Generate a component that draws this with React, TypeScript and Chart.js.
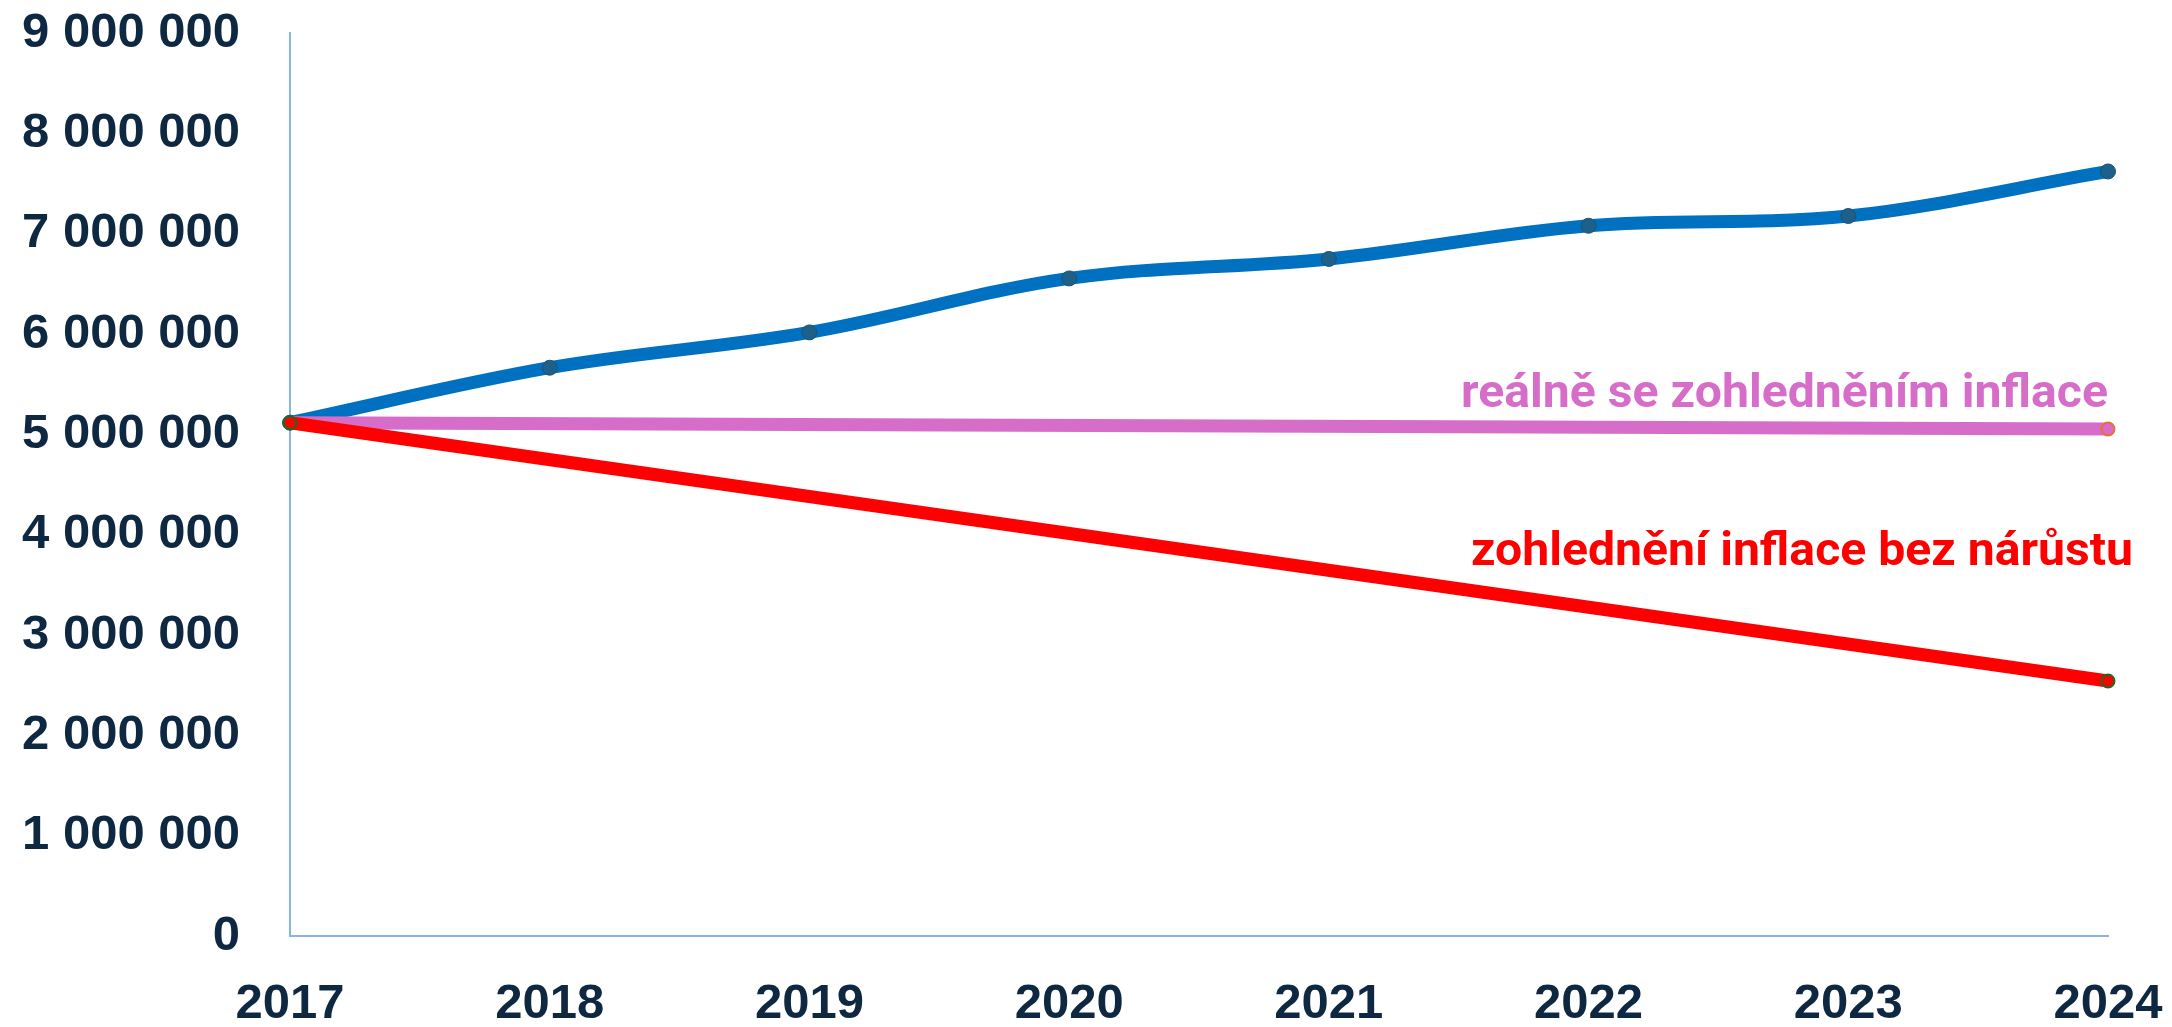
import React, { useEffect, useRef } from "react";
import { Chart, registerables } from "chart.js";

Chart.register(...registerables);

const years = ["2017", "2018", "2019", "2020", "2021", "2022", "2023", "2024"];
const nominalValues = [5116000, 5664000, 6016000, 6554000, 6748000, 7079000, 7176000, 7620000];
const realValues = [5116000, null, null, null, null, null, null, 5053000];
const noGrowthValues = [5116000, null, null, null, null, null, null, 2542000];
const realLabel = "reálně se zohledněním inflace";
const noGrowthLabel = "zohlednění inflace bez nárůstu";

const TEXT = "#0e2841";
const AXIS = "#8ab4e6";

const fmt = (v: number) => String(v).replace(/\B(?=(\d{3})+(?!\d))/g, " ");

const labelPlugin = {
  id: "lineLabels",
  afterDatasetsDraw(chart: any) {
    const { ctx, scales } = chart;
    const xs = scales.x;
    const ys = scales.y;
    const drawFit = (text: string, color: string, xRight: number, yCenter: number, width: number) => {
      ctx.save();
      ctx.font = "bold 47px Roboto, 'Liberation Sans', sans-serif";
      ctx.fillStyle = color;
      ctx.textBaseline = "middle";
      ctx.textAlign = "right";
      const w = ctx.measureText(text).width;
      const sx = width / w;
      ctx.translate(xRight, yCenter);
      ctx.scale(sx, 1);
      ctx.fillText(text, 0, 0);
      ctx.restore();
    };
    const xEnd = xs.getPixelForValue(7);
    drawFit(realLabel, "#d66dc9", xEnd, ys.getPixelForValue(5390000), 647);
    drawFit(noGrowthLabel, "#ff0000", xEnd + 25, ys.getPixelForValue(3815000), 662);
  },
};

export default function App() {
  const ref = useRef<HTMLCanvasElement>(null);
  useEffect(() => {
    if (!ref.current) return;
    const chart = new Chart(ref.current, {
      type: "line",
      data: {
        labels: years,
        datasets: [
          {
            label: noGrowthLabel,
            data: noGrowthValues,
            borderColor: "#ff0000",
            backgroundColor: "#ff0000",
            borderWidth: 13,
            pointRadius: 6.5,
            pointBorderWidth: 2,
            pointBorderColor: "#196b24",
            pointBackgroundColor: "#ff0000",
            spanGaps: true,
            tension: 0,
          },
          {
            label: realLabel,
            data: realValues,
            borderColor: "#d66dc9",
            backgroundColor: "#d66dc9",
            borderWidth: 13,
            pointRadius: [0, 0, 0, 0, 0, 0, 0, 6.5],
            pointBorderWidth: 2,
            pointBorderColor: "#e97132",
            pointBackgroundColor: "#d66dc9",
            spanGaps: true,
            tension: 0,
          },
          {
            label: "nominálně",
            data: nominalValues,
            borderColor: "#0070c0",
            backgroundColor: "#0070c0",
            borderWidth: 13,
            pointRadius: 7.5,
            pointBorderWidth: 1,
            pointBorderColor: "#1a5478",
            pointBackgroundColor: "#1d6089",
            tension: 0.35,
          },
        ],
      },
      options: {
        animation: false,
        responsive: false,
        maintainAspectRatio: false,
        layout: { padding: { left: 18, right: 64, top: 33, bottom: 0 } },
        plugins: { legend: { display: false }, tooltip: { enabled: false } },
        scales: {
          x: {
            offset: false,
            grid: { display: false, drawTicks: false },
            border: { display: true, color: AXIS, width: 2 },
            afterFit: (s: any) => {
              s.height = 91;
              s.paddingLeft = 0;
              s.paddingRight = 0;
            },
            ticks: {
              color: TEXT,
              padding: 44,
              font: { family: "'Liberation Sans', Arial, sans-serif", size: 49, weight: "bold", lineHeight: 1 },
              maxRotation: 0,
            },
          },
          y: {
            min: 0,
            max: 9000000,
            grid: { display: false, drawTicks: false },
            border: { display: true, color: AXIS, width: 2 },
            afterFit: (s: any) => {
              s.width = 272;
              s.paddingTop = 0;
              s.paddingBottom = 0;
            },
            ticks: {
              stepSize: 1000000,
              color: TEXT,
              padding: 50,
              font: { family: "'Liberation Sans', Arial, sans-serif", size: 49, weight: "bold", lineHeight: 1 },
              callback: (v: any) => fmt(Number(v)),
            },
          },
        },
      },
      plugins: [labelPlugin],
    });
    return () => chart.destroy();
  }, []);
  return (
    <div style={{ position: "absolute", left: 0, top: 0, width: 2172, height: 1027, background: "#fff" }}>
      <canvas ref={ref} width={2172} height={1027} style={{ display: "block" }} />
    </div>
  );
}
